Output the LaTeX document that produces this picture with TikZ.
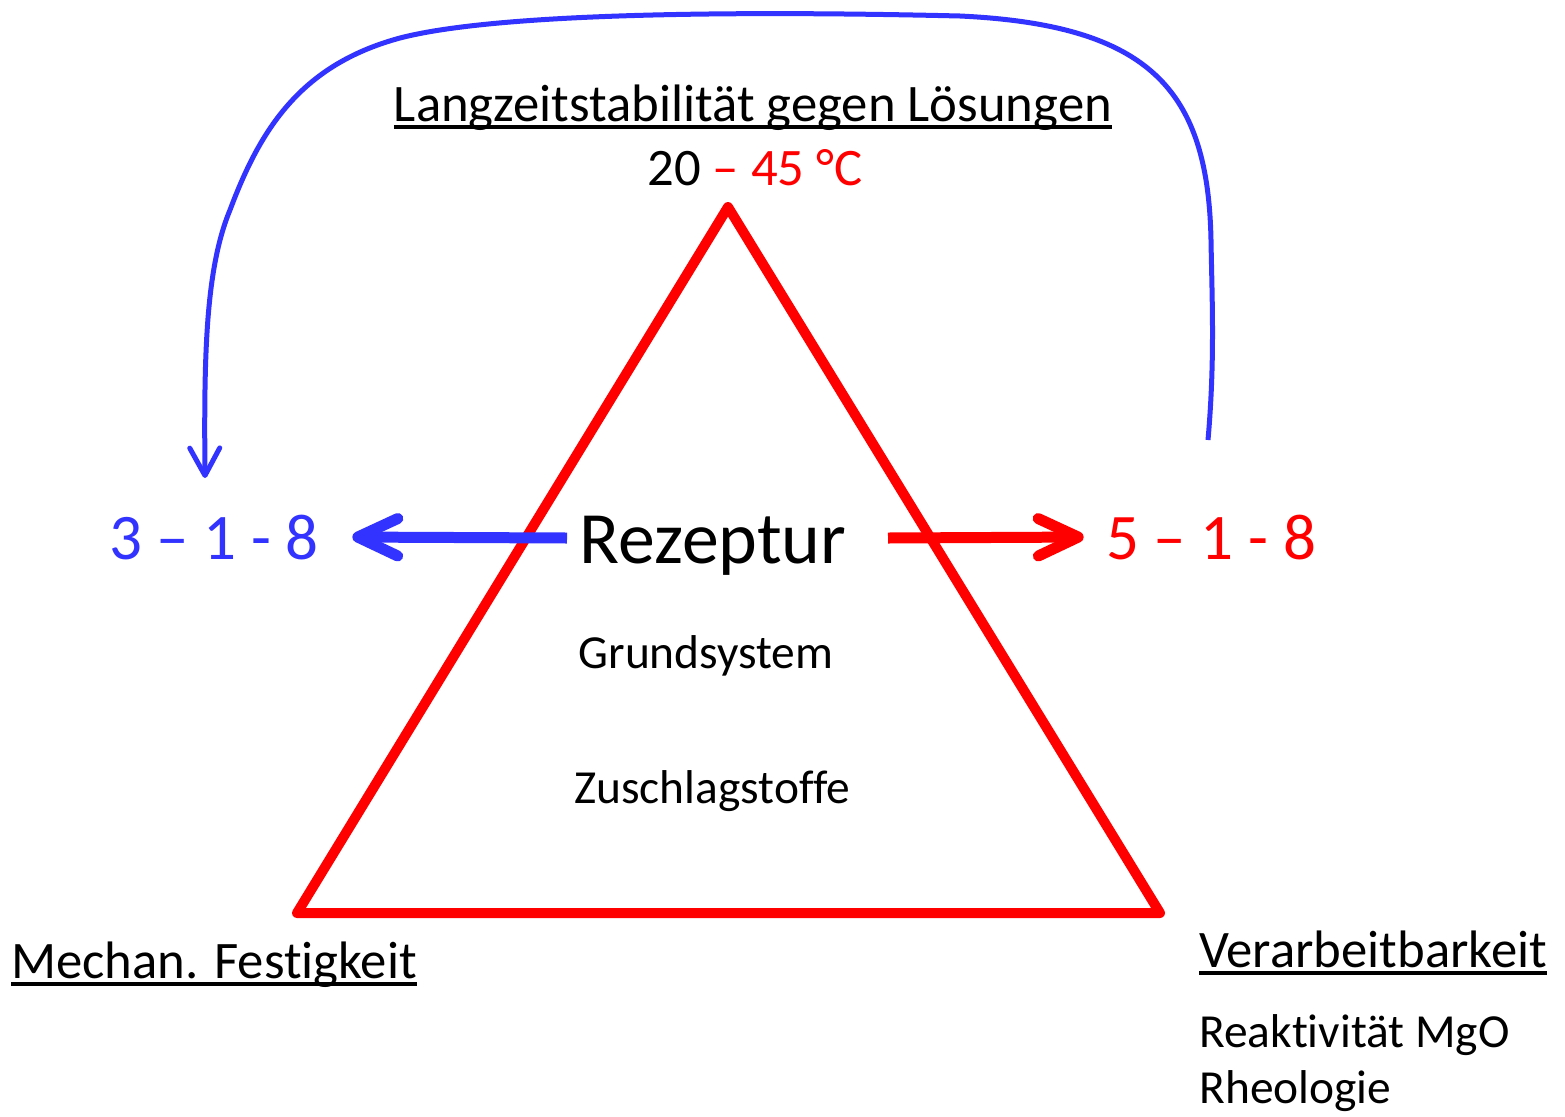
\documentclass[tikz,border=0pt]{standalone}
\usepackage{fontspec}
\setmainfont[Ligatures={TeX,NoCommon}]{Carlito}
\usepackage{xcolor}
\definecolor{CBlue}{HTML}{3333FF}
\definecolor{CRed}{HTML}{FF0000}
\usepackage{tikz}
\usetikzlibrary{arrows.meta,positioning}
\newcommand{\ulText}[1]{\setbox0=\hbox{#1}\rlap{\rule[-0.15em]{\wd0}{0.065em}}\box0}
\tikzstyle{headNode}=[inner sep=0pt, anchor=base, font=\fontsize{30}{36}\selectfont]
\tikzstyle{codeNode}=[inner sep=0pt, anchor=base, font=\fontsize{37}{44}\selectfont]
\tikzstyle{partNode}=[inner sep=0pt, anchor=base, font=\fontsize{27}{32}\selectfont]
\tikzstyle{propNode}=[inner sep=0pt, anchor=base west, font=\fontsize{27}{32}\selectfont]
\tikzstyle{triLine}=[draw=CRed, line width=0.2cm, line join=round]
\tikzstyle{blueArr}=[draw=CBlue, line width=0.22cm, -{Straight Barb[length=0.8cm,width=0.75cm,round]}]
\tikzstyle{redArr}=[draw=CRed, line width=0.22cm, -{Straight Barb[length=0.8cm,width=0.75cm,round]}]
\tikzstyle{loopArr}=[draw=CBlue, line width=0.1cm, -{Straight Barb[length=0.55cm,width=0.6cm,round]}]

\begin{document}
\begin{tikzpicture}[x=0.02cm, y=-0.02cm]
\useasboundingbox (0,0) rectangle (1565,1116);
% triangle
\coordinate (apex) at (728,207);
\coordinate (baseL) at (297,913);
\coordinate (baseR) at (1160,913);
\draw[triLine] (apex) -- (baseL) -- (baseR) -- cycle;
% labels
\node[headNode] (lang) at (753,121) {\ulText{Langzeitstabilität gegen Lösungen}};
\node[headNode] (temp) at (755,185) {20 \textcolor{CRed}{\textendash{} 45 °C}};
\node[inner sep=0pt, anchor=base, font=\fontsize{42}{50}\selectfont] (rez) at (713,563) {Rezeptur};
\node[partNode] (grund) at (706,668) {Grundsystem};
\node[partNode] (zuschlag) at (712,803) {Zuschlagstoffe};
\node[codeNode, text=CBlue] (b318) at (214,559) {3 \textendash{} 1 - 8};
\node[codeNode, text=CRed] (r518) at (1211,559) {5 \textendash{} 1 - 8};
\node[headNode] (mech) at (214,978) {\ulText{Mechan. Festigkeit}};
\node[propNode, font=\fontsize{30}{36}\selectfont] (verarb) at (1199,967) {\ulText{Verarbeitbarkeit}};
\node[propNode] (reakt) at (1199,1047) {Reaktivität MgO};
\node[propNode] (rheo) at (1199,1103) {Rheologie};
% arrows
\coordinate (rezL) at (567,538);
\coordinate (rezR) at (888,538);
\draw[blueArr] (rezL) -- ([xshift=0.66cm]b318.east);
\draw[redArr] (rezR) -- ([xshift=-0.44cm]r518.west);
% loop back
\coordinate (loopStart) at (1208,440);
\coordinate (loopEnd) at (205,478);
\draw[loopArr] (loopStart) .. controls (1215,360) and (1212,300) .. (1211,240)
  .. controls (1208,90) and (1150,25) .. (960,16)
  .. controls (750,11) and (500,12) .. (400,38)
  .. controls (300,65) and (260,130) .. (230,210)
  .. controls (205,270) and (204,360) .. (loopEnd);
\end{tikzpicture}
\end{document}
